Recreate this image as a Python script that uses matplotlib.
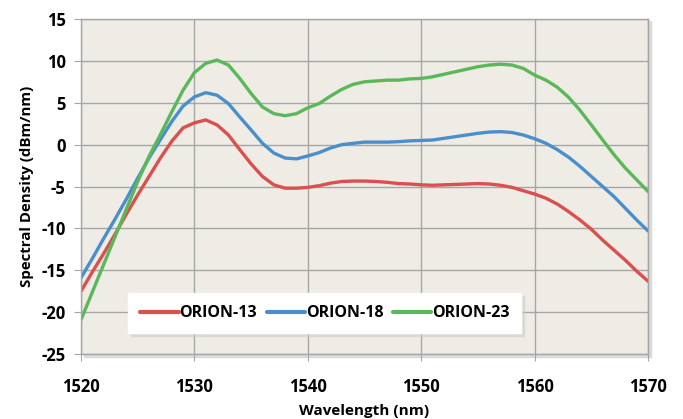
import matplotlib
matplotlib.use('Agg')
import matplotlib.pyplot as plt
from matplotlib.patches import Rectangle

wavelength = list(range(1520, 1571))

orion_13 = [-17.5, -15.2, -13.0, -10.7, -8.3, -6.0, -3.8, -1.6, 0.4, 2.0,
            2.6, 2.95, 2.35, 1.15, -0.6, -2.3, -3.8, -4.8, -5.2, -5.2,
            -5.1, -4.9, -4.6, -4.4, -4.35, -4.35, -4.4, -4.5, -4.65, -4.7,
            -4.8, -4.85, -4.8, -4.75, -4.7, -4.65, -4.7, -4.85, -5.1, -5.5,
            -5.9, -6.4, -7.1, -8.0, -9.0, -10.1, -11.4, -12.6, -13.8, -15.1,
            -16.3]
orion_18 = [-15.9, -13.6, -11.2, -8.9, -6.5, -4.0, -1.6, 0.6, 2.75, 4.6,
            5.7, 6.2, 5.9, 4.9, 3.3, 1.75, 0.16, -1.0, -1.6, -1.7,
            -1.35, -0.95, -0.4, 0.0, 0.16, 0.3, 0.3, 0.3, 0.35, 0.45,
            0.5, 0.55, 0.75, 0.95, 1.15, 1.35, 1.5, 1.55, 1.45, 1.15,
            0.7, 0.16, -0.6, -1.5, -2.6, -3.8, -5.0, -6.2, -7.6, -9.0,
            -10.3]
orion_23 = [-20.9, -17.6, -14.3, -11.0, -7.7, -4.4, -1.4, 1.2, 3.9, 6.5,
            8.6, 9.7, 10.1, 9.5, 7.9, 6.1, 4.5, 3.7, 3.45, 3.7,
            4.4, 4.9, 5.8, 6.6, 7.2, 7.5, 7.6, 7.7, 7.7, 7.85,
            7.9, 8.1, 8.4, 8.7, 9.0, 9.3, 9.5, 9.6, 9.5, 9.1,
            8.3, 7.7, 6.85, 5.65, 4.1, 2.35, 0.56, -1.2, -2.8, -4.2,
            -5.6]

series_names = ['ORION-13', 'ORION-18', 'ORION-23']
colors = ['#d9504f', '#4a8fcc', '#5bb85a']

plt.rcParams['font.family'] = ['Open Sans', 'DejaVu Sans']
plt.rcParams['font.weight'] = 'bold'
plt.rcParams['axes.unicode_minus'] = False

fig = plt.figure(figsize=(6.83, 4.19), dpi=100)
ax = fig.add_axes([0.1186, 0.155, 0.8302, 0.7997])

# soft drop shadow behind the plot area
fig.patches.append(Rectangle((0.1186 + 0.004, 0.155 - 0.006), 0.8302, 0.7997,
                             transform=fig.transFigure, color='#dadada',
                             zorder=-1))

ax.set_facecolor('#efece6')
for y, name, c in zip([orion_13, orion_18, orion_23], series_names, colors):
    ax.plot(wavelength, y, color=c, lw=2.4, label=name,
            solid_capstyle='round', solid_joinstyle='round')

ax.set_xlim(1520, 1570)
ax.set_ylim(-25, 15)
ax.set_xticks(range(1520, 1571, 10))
ax.set_yticks(range(-25, 16, 5))
ax.grid(True, color='#a6a6a6', lw=1)
ax.set_axisbelow(True)
for s in ax.spines.values():
    s.set_color('#a6a6a6')
    s.set_linewidth(1)
ax.tick_params(axis='both', colors='#a6a6a6', labelcolor='black',
               labelsize=12, length=5)
ax.tick_params(axis='x', pad=12)
ax.tick_params(axis='y', pad=6)

ax.set_xlabel('Wavelength (nm)', fontsize=11, fontweight='bold', labelpad=6)
ax.set_ylabel('Spectral Density (dBm/nm)', fontsize=10.8, fontweight='bold',
              labelpad=5)

leg = ax.legend(loc='center', bbox_to_anchor=(0.430, 0.122), ncol=3,
                fontsize=11.5, frameon=True, fancybox=False,
                shadow={'ox': 2, 'oy': -2, 'shade': 0.2},
                handlelength=2.4, handletextpad=0.05, columnspacing=0.6,
                borderpad=0.75, borderaxespad=0)
leg.get_frame().set_facecolor('white')
leg.get_frame().set_edgecolor('white')
leg.get_frame().set_alpha(1)
for line in leg.get_lines():
    line.set_linewidth(3)

fig.savefig('out.png', dpi=100)
